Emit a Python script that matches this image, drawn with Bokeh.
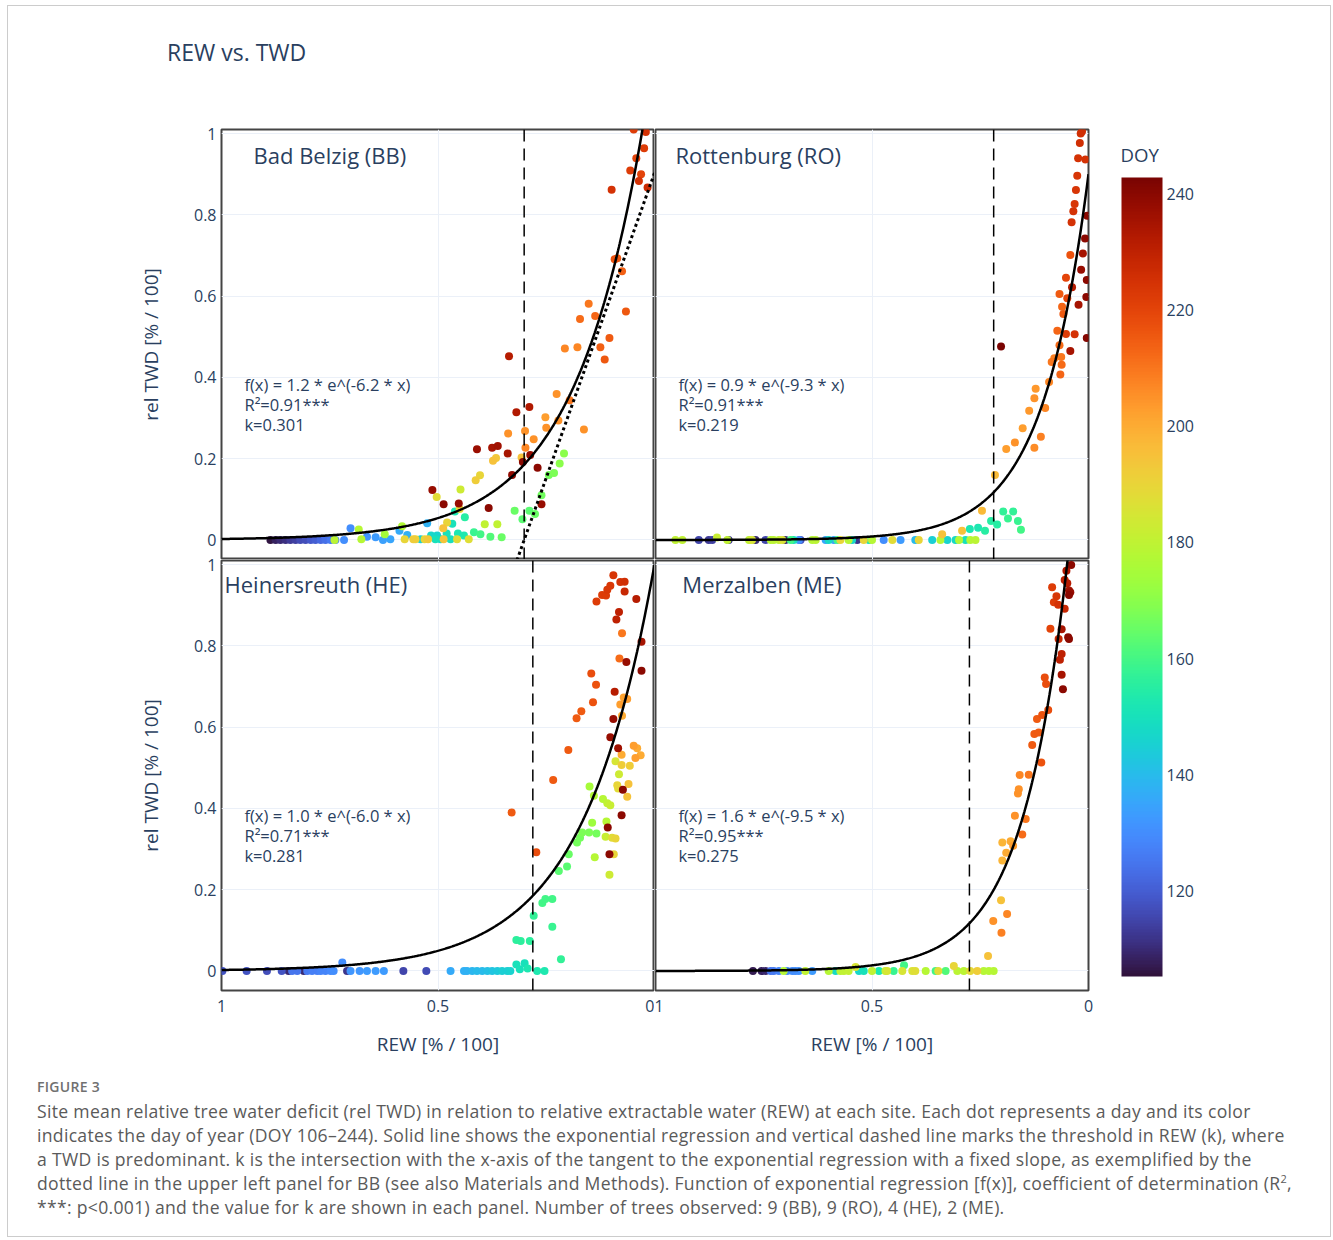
import numpy as np
from bokeh.plotting import figure
from bokeh.models import (Range1d, FixedTicker, ColorBar, LinearColorMapper, Span, Label,
                          ColumnDataSource, Div, NumeralTickFormatter)
from bokeh.layouts import row, column
from bokeh.palettes import Turbo256
from bokeh.transform import transform
from bokeh.embed import file_html
from bokeh.resources import INLINE

TEXT = "#2a3f5f"
FONT = "Open Sans"

# ---------------- data: Bad Belzig (BB) ----------------
bb_rew = [0.887, 0.875, 0.864, 0.852, 0.841, 0.829, 0.818, 0.806, 0.794, 0.783,
          0.771, 0.760, 0.748, 0.737, 0.739, 0.717, 0.702, 0.683, 0.677, 0.664,
          0.644, 0.627, 0.623, 0.610, 0.589, 0.583, 0.577, 0.571, 0.557, 0.552,
          0.540, 0.531, 0.525, 0.523, 0.516, 0.506, 0.502, 0.494, 0.488, 0.487,
          0.480, 0.479, 0.471, 0.467, 0.461, 0.456, 0.454, 0.450, 0.440, 0.438,
          0.429, 0.417, 0.402, 0.392, 0.379, 0.363, 0.353, 0.513, 0.503, 0.487,
          0.452, 0.448, 0.413, 0.403, 0.410, 0.383, 0.373, 0.366, 0.375, 0.362,
          0.339, 0.338, 0.329, 0.323, 0.319, 0.336, 0.307, 0.305, 0.304, 0.299,
          0.298, 0.289, 0.289, 0.287, 0.279, 0.276, 0.270, 0.261, 0.261, 0.252,
          0.250, 0.244, 0.232, 0.226, 0.222, 0.219, 0.209, 0.207, 0.196, 0.178,
          0.172, 0.163, 0.152, 0.137, 0.125, 0.115, 0.104, 0.099, 0.092, 0.086,
          0.075, 0.066, 0.056, 0.048, 0.042, 0.036, 0.031, 0.024, 0.020, 0.016]
bb_twd = [0.000, 0.000, 0.000, 0.000, 0.000, 0.000, 0.000, 0.000, 0.000, 0.000,
          0.000, 0.000, 0.000, 0.000, 0.000, 0.000, 0.029, 0.026, 0.002, 0.008,
          0.007, 0.000, 0.014, 0.002, 0.023, 0.034, 0.002, 0.012, 0.002, 0.002,
          0.002, 0.002, 0.041, 0.002, 0.011, 0.002, 0.011, 0.002, 0.029, 0.002,
          0.016, 0.043, 0.002, 0.040, 0.070, 0.002, 0.016, 0.076, 0.011, 0.056,
          0.002, 0.019, 0.014, 0.039, 0.008, 0.039, 0.007, 0.123, 0.106, 0.088,
          0.090, 0.124, 0.147, 0.159, 0.223, 0.079, 0.195, 0.202, 0.227, 0.231,
          0.213, 0.262, 0.160, 0.072, 0.314, 0.452, 0.203, 0.051, 0.192, 0.268,
          0.227, 0.072, 0.327, 0.209, 0.248, 0.064, 0.178, 0.088, 0.110, 0.302,
          0.276, 0.160, 0.165, 0.359, 0.294, 0.188, 0.213, 0.471, 0.344, 0.474,
          0.544, 0.272, 0.581, 0.551, 0.474, 0.444, 0.497, 0.862, 0.691, 0.693,
          0.661, 0.562, 0.909, 1.010, 0.939, 0.883, 0.900, 0.964, 1.004, 0.867]
bb_doy = [106, 108, 110, 111, 113, 114, 116, 117, 119, 120,
          122, 124, 126, 128, 179, 130, 130, 178, 178, 132,
          133, 134, 175, 135, 136, 177, 190, 137, 192, 191,
          145, 190, 138, 193, 147, 150, 146, 148, 195, 194,
          150, 190, 149, 150, 152, 188, 152, 190, 153, 155,
          187, 158, 160, 180, 162, 180, 165, 238, 188, 240,
          238, 183, 192, 190, 237, 240, 195, 193, 235, 236,
          235, 205, 239, 165, 233, 232, 195, 163, 240, 205,
          207, 163, 233, 238, 205, 165, 240, 238, 166, 203,
          205, 167, 168, 205, 205, 170, 170, 207, 210, 207,
          212, 205, 210, 213, 214, 216, 215, 225, 217, 215,
          214, 216, 222, 222, 220, 225, 220, 222, 225, 227]

# ---------------- data: Rottenburg (RO) ----------------
ro_rew = [0.954, 0.938, 0.900, 0.877, 0.869, 0.858, 0.834, 0.831, 0.784, 0.777,
          0.769, 0.746, 0.734, 0.727, 0.715, 0.707, 0.700, 0.688, 0.681, 0.669,
          0.665, 0.638, 0.630, 0.607, 0.600, 0.588, 0.580, 0.573, 0.554, 0.546,
          0.534, 0.519, 0.507, 0.500, 0.473, 0.453, 0.434, 0.400, 0.392, 0.361,
          0.342, 0.326, 0.307, 0.299, 0.284, 0.273, 0.261, 0.338, 0.292, 0.274,
          0.255, 0.239, 0.246, 0.225, 0.211, 0.197, 0.186, 0.174, 0.163, 0.156,
          0.216, 0.202, 0.190, 0.170, 0.152, 0.137, 0.125, 0.125, 0.122, 0.110,
          0.100, 0.091, 0.085, 0.079, 0.065, 0.062, 0.063, 0.072, 0.067, 0.058,
          0.061, 0.067, 0.052, 0.032, 0.042, 0.049, 0.052, 0.042, 0.038, 0.023,
          0.017, 0.013, 0.008, 0.005, 0.004, 0.004, 0.003, 0.039, 0.035, 0.032,
          0.029, 0.026, 0.024, 0.007, 0.020, 0.018, 0.015]
ro_twd = [0.000, 0.000, 0.000, 0.000, 0.000, 0.006, 0.000, 0.000, 0.000, 0.000,
          0.000, 0.000, 0.000, 0.000, 0.000, 0.000, 0.000, 0.000, 0.000, 0.000,
          0.000, 0.000, 0.000, 0.000, 0.000, 0.000, 0.000, 0.000, 0.000, 0.000,
          0.000, 0.000, 0.000, 0.000, 0.000, 0.000, 0.000, 0.000, 0.000, 0.000,
          0.000, 0.000, 0.000, 0.000, 0.000, 0.000, 0.000, 0.014, 0.023, 0.027,
          0.030, 0.023, 0.072, 0.047, 0.038, 0.070, 0.053, 0.070, 0.047, 0.025,
          0.160, 0.476, 0.224, 0.240, 0.275, 0.318, 0.227, 0.349, 0.372, 0.254,
          0.325, 0.389, 0.438, 0.447, 0.407, 0.431, 0.450, 0.515, 0.479, 0.556,
          0.574, 0.605, 0.507, 0.506, 0.465, 0.595, 0.645, 0.701, 0.622, 0.579,
          0.665, 0.705, 0.742, 0.598, 0.640, 0.497, 0.798, 0.782, 0.809, 0.827,
          0.861, 0.896, 0.939, 0.936, 0.977, 1.000, 1.005]
ro_doy = [180, 180, 115, 113, 114, 182, 180, 112, 180, 185,
          110, 115, 178, 179, 180, 186, 110, 160, 150, 130,
          118, 178, 179, 135, 148, 134, 160, 190, 178, 147,
          112, 190, 150, 178, 130, 188, 133, 140, 190, 145,
          178, 146, 148, 178, 150, 178, 179, 195, 195, 152,
          152, 155, 197, 155, 155, 157, 158, 157, 158, 160,
          197, 243, 203, 205, 203, 204, 206, 205, 204, 208,
          207, 207, 210, 208, 213, 212, 210, 213, 212, 215,
          213, 215, 222, 225, 235, 220, 220, 217, 232, 235,
          238, 235, 240, 240, 240, 241, 240, 225, 225, 224,
          224, 224, 225, 225, 226, 226, 226]

# ---------------- data: Heinersreuth (HE) ----------------
he_rew = [0.998, 0.942, 0.895, 0.861, 0.845, 0.837, 0.825, 0.810, 0.802, 0.791,
          0.779, 0.771, 0.760, 0.748, 0.741, 0.721, 0.710, 0.702, 0.681, 0.664,
          0.644, 0.625, 0.580, 0.527, 0.471, 0.440, 0.433, 0.421, 0.410, 0.398,
          0.386, 0.375, 0.363, 0.352, 0.340, 0.333, 0.319, 0.311, 0.300, 0.293,
          0.271, 0.254, 0.216, 0.319, 0.309, 0.288, 0.279, 0.236, 0.259, 0.252,
          0.236, 0.221, 0.202, 0.198, 0.179, 0.172, 0.167, 0.151, 0.134, 0.144,
          0.138, 0.150, 0.140, 0.119, 0.109, 0.102, 0.111, 0.113, 0.098, 0.090,
          0.094, 0.104, 0.082, 0.086, 0.084, 0.063, 0.060, 0.090, 0.076, 0.057,
          0.076, 0.044, 0.048, 0.040, 0.032, 0.075, 0.079, 0.071, 0.063, 0.084,
          0.102, 0.095, 0.073, 0.076, 0.108, 0.104, 0.092, 0.330, 0.273, 0.234,
          0.199, 0.180, 0.169, 0.142, 0.135, 0.146, 0.065, 0.081, 0.075, 0.030,
          0.030, 0.088, 0.082, 0.069, 0.042, 0.134, 0.121, 0.112, 0.109, 0.102,
          0.095, 0.079, 0.069]
he_twd = [0.000, 0.000, 0.000, 0.000, 0.000, 0.000, 0.000, 0.000, 0.000, 0.000,
          0.000, 0.000, 0.000, 0.000, 0.000, 0.021, 0.000, 0.000, 0.000, 0.000,
          0.000, 0.000, 0.000, 0.000, 0.000, 0.000, 0.000, 0.000, 0.000, 0.000,
          0.000, 0.000, 0.000, 0.000, 0.000, 0.000, 0.016, 0.004, 0.019, 0.006,
          0.000, 0.000, 0.029, 0.076, 0.074, 0.074, 0.136, 0.109, 0.167, 0.177,
          0.177, 0.246, 0.257, 0.287, 0.316, 0.328, 0.341, 0.341, 0.338, 0.365,
          0.280, 0.454, 0.431, 0.423, 0.413, 0.408, 0.368, 0.330, 0.328, 0.326,
          0.287, 0.237, 0.484, 0.457, 0.449, 0.429, 0.460, 0.516, 0.507, 0.505,
          0.532, 0.524, 0.554, 0.548, 0.531, 0.628, 0.656, 0.673, 0.669, 0.548,
          0.575, 0.620, 0.446, 0.383, 0.353, 0.287, 0.687, 0.390, 0.292, 0.470,
          0.544, 0.622, 0.639, 0.661, 0.704, 0.732, 0.760, 0.769, 0.831, 0.739,
          0.810, 0.865, 0.883, 0.934, 0.915, 0.909, 0.925, 0.924, 0.938, 0.948,
          0.974, 0.957, 0.958]
he_doy = [118, 118, 117, 118, 110, 125, 125, 110, 126, 127,
          127, 128, 128, 129, 130, 130, 112, 132, 132, 133,
          133, 133, 115, 116, 136, 137, 138, 139, 140, 140,
          141, 142, 143, 145, 145, 146, 150, 150, 150, 152,
          153, 153, 157, 156, 156, 156, 157, 158, 160, 160,
          160, 163, 163, 165, 167, 167, 168, 168, 167, 173,
          178, 175, 177, 178, 180, 182, 178, 182, 188, 190,
          190, 183, 183, 190, 188, 195, 195, 185, 192, 192,
          200, 203, 203, 200, 200, 200, 203, 202, 203, 236,
          238, 238, 240, 240, 240, 240, 232, 215, 218, 215,
          215, 215, 215, 217, 217, 218, 238, 212, 210, 240,
          235, 230, 230, 228, 232, 222, 222, 222, 223, 223,
          224, 225, 226]

# ---------------- data: Merzalben (ME) ----------------
me_rew = [0.775, 0.755, 0.746, 0.734, 0.727, 0.715, 0.704, 0.696, 0.684, 0.677,
          0.669, 0.654, 0.638, 0.600, 0.584, 0.573, 0.565, 0.554, 0.538, 0.530,
          0.519, 0.500, 0.484, 0.469, 0.465, 0.450, 0.430, 0.426, 0.407, 0.400,
          0.376, 0.353, 0.347, 0.330, 0.311, 0.303, 0.288, 0.273, 0.257, 0.242,
          0.230, 0.219, 0.232, 0.202, 0.220, 0.188, 0.201, 0.199, 0.199, 0.190,
          0.180, 0.174, 0.170, 0.163, 0.161, 0.159, 0.138, 0.145, 0.153, 0.130,
          0.109, 0.125, 0.115, 0.119, 0.107, 0.093, 0.101, 0.098, 0.088, 0.062,
          0.069, 0.062, 0.066, 0.062, 0.059, 0.047, 0.045, 0.084, 0.074, 0.080,
          0.070, 0.055, 0.055, 0.049, 0.051, 0.045, 0.042, 0.040, 0.045]
me_twd = [0.000, 0.000, 0.000, 0.000, 0.000, 0.000, 0.000, 0.000, 0.000, 0.000,
          0.000, 0.000, 0.000, 0.000, 0.000, 0.000, 0.000, 0.000, 0.010, 0.000,
          0.000, 0.000, 0.000, 0.000, 0.000, 0.000, 0.000, 0.014, 0.000, 0.000,
          0.000, 0.000, 0.000, 0.000, 0.012, 0.000, 0.000, 0.000, 0.000, 0.000,
          0.000, 0.000, 0.037, 0.174, 0.123, 0.140, 0.094, 0.272, 0.316, 0.291,
          0.319, 0.308, 0.382, 0.437, 0.447, 0.482, 0.483, 0.374, 0.336, 0.556,
          0.513, 0.583, 0.587, 0.620, 0.630, 0.642, 0.722, 0.706, 0.842, 0.841,
          0.817, 0.780, 0.766, 0.729, 0.693, 0.821, 0.817, 0.944, 0.922, 0.907,
          0.901, 0.891, 0.962, 0.954, 0.985, 0.936, 0.932, 0.999, 0.925]
me_doy = [107, 108, 109, 125, 126, 128, 178, 129, 130, 130,
          131, 180, 133, 178, 148, 179, 180, 181, 185, 147,
          150, 180, 152, 181, 185, 158, 185, 160, 186, 187,
          178, 160, 188, 162, 190, 179, 179, 189, 192, 178,
          178, 178, 195, 195, 205, 207, 208, 198, 198, 200,
          200, 203, 205, 205, 205, 207, 210, 210, 212, 215,
          217, 215, 215, 215, 217, 218, 218, 218, 220, 235,
          228, 230, 230, 235, 240, 240, 240, 222, 224, 222,
          225, 228, 230, 232, 233, 235, 238, 240, 240]

# ---------------- regression / annotation values ----------------
site_titles = ["Bad Belzig (BB)", "Rottenburg (RO)", "Heinersreuth (HE)", "Merzalben (ME)"]
fit_a = [1.2, 0.9, 1.0, 1.6]
fit_b = [-6.2, -9.3, -6.0, -9.5]
fit_r2 = ["0.91", "0.91", "0.71", "0.95"]
fit_k = [0.301, 0.219, 0.281, 0.275]
bb_tangent_slope = -3.0

x_ticks = [0, 0.5, 1]
y_ticks = [0, 0.2, 0.4, 0.6, 0.8, 1]
doy_ticks = [120, 140, 160, 180, 200, 220, 240]

site_rew = [bb_rew, ro_rew, he_rew, me_rew]
site_twd = [bb_twd, ro_twd, he_twd, me_twd]
site_doy = [bb_doy, ro_doy, he_doy, me_doy]

mapper = LinearColorMapper(palette=Turbo256, low=105.2, high=242.9)

# position (REW, TWD) of the site name in each panel
name_pos = [(0.926, 0.948), (0.954, 0.948), (0.993, 0.951), (0.938, 0.951)]

HEADER_H = 80
OVERLAP = 6  # bottom row slides under the top row so tick labels are not cut


def make_panel(i, is_left, is_top):
    p = figure(x_range=Range1d(1, 0), y_range=Range1d(-0.048, 1.01),
               frame_width=433, frame_height=430,
               min_border_left=213 if is_left else 1,
               min_border_right=0 if is_left else 5,
               min_border_top=123 - HEADER_H if is_top else 1 + OVERLAP,
               min_border_bottom=0 if is_top else 70,
               output_backend="svg", toolbar_location=None,
               background_fill_color="white",
               border_fill_color="white" if is_top else None,
               outline_line_color="#444444", outline_line_width=2)

    # grids
    p.xgrid.ticker = FixedTicker(ticks=x_ticks)
    p.ygrid.ticker = FixedTicker(ticks=y_ticks)
    p.xgrid.grid_line_color = "#ebf0f8"
    p.ygrid.grid_line_color = "#ebf0f8"
    p.xgrid.grid_line_width = 1
    p.ygrid.grid_line_width = 1

    # axes
    for ax in (p.xaxis[0], p.yaxis[0]):
        ax.axis_line_color = None
        ax.major_tick_line_color = None
        ax.minor_tick_line_color = None
        ax.major_tick_out = 0
        ax.major_tick_in = 0
        ax.minor_tick_out = 0
        ax.minor_tick_in = 0
        ax.major_label_text_font = FONT
        ax.major_label_text_font_size = "16px"
        ax.major_label_text_color = TEXT
        ax.axis_label_text_font = FONT
        ax.axis_label_text_font_size = "19px"
        ax.axis_label_text_font_style = "normal"
        ax.axis_label_text_color = TEXT
        ax.formatter = NumeralTickFormatter(format="0.[0]")

    p.xaxis[0].ticker = FixedTicker(ticks=x_ticks)
    p.yaxis[0].ticker = FixedTicker(ticks=y_ticks)

    if is_top:
        p.xaxis.visible = False
    else:
        p.xaxis[0].axis_label = "REW [% / 100]"
        p.xaxis[0].major_label_standoff = 9
        p.xaxis[0].axis_label_standoff = 16
    if is_left:
        p.yaxis[0].axis_label = "rel TWD [% / 100]"
        p.yaxis[0].major_label_standoff = 5
        p.yaxis[0].axis_label_standoff = 27
    else:
        p.yaxis.visible = False

    rew = np.array(site_rew[i], dtype=float)
    twd = np.array(site_twd[i], dtype=float)
    doy = np.array(site_doy[i], dtype=float)
    order = np.argsort(doy, kind="stable")
    src = ColumnDataSource(dict(rew=rew[order], twd=twd[order], doy=doy[order]))
    p.scatter("rew", "twd", source=src, size=8, line_color=None,
              fill_color=transform("doy", mapper))

    # exponential regression
    xs = np.linspace(0, 1, 500)
    p.line(xs, fit_a[i] * np.exp(fit_b[i] * xs), line_color="black", line_width=2.5)

    # threshold k
    p.add_layout(Span(location=fit_k[i], dimension="height", line_color="black",
                      line_width=1.5, line_dash="12 7"))

    if i == 0:
        xt = np.array([0.0, fit_k[i] + 0.06])
        p.line(xt, bb_tangent_slope * (xt - fit_k[i]), line_color="black",
               line_width=3, line_dash="3 3")

    nx, ny = name_pos[i]
    p.add_layout(Label(x=nx, y=ny, text=site_titles[i], text_font=FONT,
                       text_font_size="22px", text_color=TEXT, text_baseline="middle",
                       text_align="left"))
    eq_lines = [f"f(x) = {fit_a[i]:.1f} * e^({fit_b[i]:.1f} * x)",
                f"R\u00b2={fit_r2[i]}***",
                f"k={fit_k[i]:.3f}"]
    for txt, yy in zip(eq_lines, [0.383, 0.334, 0.285]):
        p.add_layout(Label(x=0.947, y=yy, text=txt, text_font=FONT,
                           text_font_size="16.5px", text_color=TEXT,
                           text_baseline="middle", text_align="left"))
    return p


tl = make_panel(0, True, True)
tr = make_panel(1, False, True)
bl = make_panel(2, True, False)
br = make_panel(3, False, False)

panels_h = (123 - HEADER_H) + 430 + (1 + OVERLAP + 430 + 70) - OVERLAP

# colour bar figure
cb_fig = figure(width=237, height=panels_h, min_border_left=28, min_border_right=0,
                min_border_top=171 - HEADER_H, min_border_bottom=0,
                x_axis_location=None, y_axis_location=None,
                toolbar_location=None, output_backend="svg",
                outline_line_color=None, background_fill_color="white",
                border_fill_color="white", title="DOY")
cb_fig.title.align = "left"
cb_fig.title.offset = -1
cb_fig.title.standoff = 22
cb_fig.title.text_font = FONT
cb_fig.title.text_font_size = "18.6px"
cb_fig.title.text_font_style = "normal"
cb_fig.title.text_color = TEXT
cb_fig.grid.visible = False
cb_fig.scatter([], [])
color_bar = ColorBar(color_mapper=mapper, location="top_left", margin=0, padding=0,
                     width=41, height=799,
                     ticker=FixedTicker(ticks=doy_ticks),
                     major_label_text_font=FONT, major_label_text_font_size="16px",
                     major_label_text_color=TEXT, label_standoff=4,
                     major_tick_line_color=None, minor_tick_line_color=None,
                     bar_line_color=None, border_line_color=None,
                     background_fill_color=None)
cb_fig.add_layout(color_bar, "center")

header = Div(
    text=("<div style=\"font-family:'Open Sans',sans-serif;font-size:23px;line-height:30px;"
          f"color:{TEXT};padding-left:159px;padding-top:31px;white-space:nowrap;\">"
          "REW vs. TWD</div>"),
    width=1322, height=HEADER_H, margin=0)

caption_html = (
    "<div style=\"font-family:'Open Sans',sans-serif;padding-left:29px;\">"
    "<div style=\"margin-top:17px;line-height:20px;font-size:14px;color:#707070;"
    "font-weight:600;letter-spacing:0.3px;\">FIGURE 3</div>"
    "<div style=\"margin-top:2px;line-height:24px;font-size:17.6px;color:#5a5a5a;"
    "letter-spacing:0.3px;white-space:nowrap;\">"
    "Site mean relative tree water deficit (rel TWD) in relation to relative extractable water (REW) at each site. Each dot represents a day and its color<br>"
    "indicates the day of year (DOY 106\u2013244). Solid line shows the exponential regression and vertical dashed line marks the threshold in REW (k), where<br>"
    "a TWD is predominant. k is the intersection with the x-axis of the tangent to the exponential regression with a fixed slope, as exemplified by the<br>"
    "dotted line in the upper left panel for BB (see also Materials and Methods). Function of exponential regression [f(x)], coefficient of determination (R"
    "<sup style=\"line-height:0;font-size:11px;\">2</sup>,<br>"
    "***: p&lt;0.001) and the value for k are shown in each panel. Number of trees observed: 9 (BB), 9 (RO), 4 (HE), 2 (ME)."
    "</div></div>"
)
caption = Div(text=caption_html, width=1322, height=176, margin=0)

top_row = row(tl, tr, spacing=0)
bottom_row = row(bl, br, spacing=0, margin=(-OVERLAP, 0, 0, 0))
left_col = column(top_row, bottom_row, spacing=0)
main = row(left_col, cb_fig, spacing=0)
page = column(header, main, caption, spacing=0, margin=(5, 0, 0, 7),
              styles={"border": "1px solid #cccccc"})

open("out.html", "w").write(file_html(page, INLINE, title="REW vs. TWD"))
